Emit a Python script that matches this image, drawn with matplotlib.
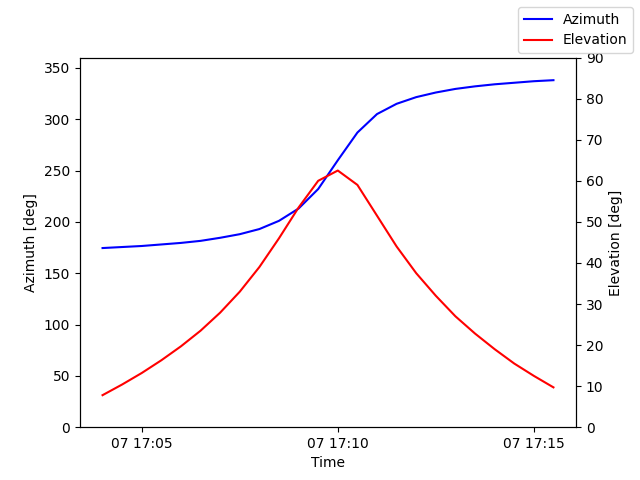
import numpy as np
import pandas as pd
import matplotlib as mpl
mpl.use('agg')
import matplotlib.pyplot as plt
import matplotlib.dates as mdates

# one sample every 30 s during the pass
times = pd.date_range("2023-01-07 17:04:00", periods=24, freq="30s")
azimuth = [174.5, 175.5, 176.5, 178, 179.5, 181.5, 184.5, 188, 193, 201, 213, 232,
           260, 287, 305, 315, 321.5, 326, 329.5, 332, 334, 335.5, 337, 338]
elevation = [7.8, 10.4, 13.2, 16.3, 19.7, 23.5, 27.9, 33, 39, 46, 53.5, 60,
             62.5, 59, 51.5, 44, 37.5, 32, 27, 22.8, 19, 15.5, 12.5, 9.7]

fig, ax = plt.subplots(figsize=(6.4, 4.8))
ax.plot(times, azimuth, color='b', label='Azimuth')
ax.set_ylim(0, 360)
ax.set_ylabel('Azimuth [deg]')
ax.set_xlabel('Time')

ax2 = ax.twinx()
ax2.plot(times, elevation, color='r', label='Elevation')
ax2.set_ylim(0, 90)
ax2.set_ylabel('Elevation [deg]')

ax.xaxis.set_major_locator(mdates.MinuteLocator(byminute=[5, 10, 15]))
ax.xaxis.set_major_formatter(mdates.DateFormatter('%d %H:%M'))

fig.legend(loc='upper right')
fig.savefig('out.png')
